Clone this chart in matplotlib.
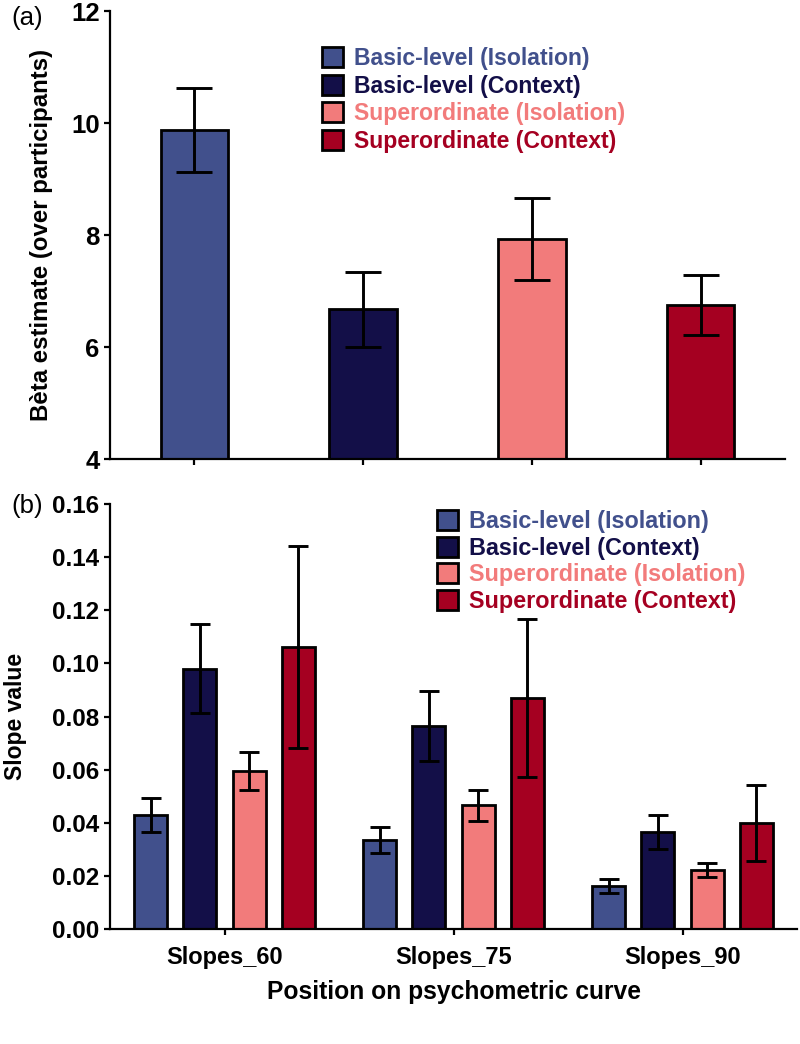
import matplotlib.pyplot as plt
import numpy as np

plt.rcParams['font.family'] = ['Liberation Sans', 'DejaVu Sans']

conditions = ["Basic-level (Isolation)", "Basic-level (Context)",
              "Superordinate (Isolation)", "Superordinate (Context)"]
colors = ["#41508C", "#130F48", "#F27B7B", "#A50021"]

# panel a: beta estimates
beta = [9.87, 6.68, 7.93, 6.75]
beta_err = [0.75, 0.67, 0.73, 0.53]

# panel b: slopes per position
positions = ["Slopes_60", "Slopes_75", "Slopes_90"]
slopes = {
    "Basic-level (Isolation)": [0.043, 0.0336, 0.0163],
    "Basic-level (Context)": [0.098, 0.0765, 0.0367],
    "Superordinate (Isolation)": [0.0596, 0.0466, 0.0223],
    "Superordinate (Context)": [0.1062, 0.087, 0.0399],
}
slopes_err = {
    "Basic-level (Isolation)": [0.0065, 0.005, 0.0025],
    "Basic-level (Context)": [0.0167, 0.0132, 0.0064],
    "Superordinate (Isolation)": [0.0072, 0.0057, 0.0028],
    "Superordinate (Context)": [0.038, 0.0298, 0.0143],
}

fig = plt.figure(figsize=(8, 10.44), dpi=100)
ax1 = fig.add_axes([0.1375, 0.56006, 0.84375, 0.4294])
ax2 = fig.add_axes([0.1375, 0.10987, 0.85875, 0.4074])

def style(ax, size):
    ax.spines["top"].set_visible(False)
    ax.spines["right"].set_visible(False)
    ax.spines["left"].set_linewidth(1.6)
    ax.spines["bottom"].set_linewidth(1.6)
    ax.tick_params(direction="out", length=4, width=1.6, labelsize=size)
    for lab in ax.get_yticklabels() + ax.get_xticklabels():
        lab.set_fontweight("bold")

# ---- panel a
x1 = np.arange(len(beta))
ax1.bar(x1, beta, width=0.4, color=colors, edgecolor="black", linewidth=2, zorder=2)
ax1.errorbar(x1, beta, yerr=beta_err, fmt="none", ecolor="black", elinewidth=2.1,
             capsize=13, capthick=2.1, zorder=3)
ax1.set_ylim(4, 12)
ax1.set_xlim(-0.5, 3.5)
ax1.set_yticks([4, 6, 8, 10, 12])
ax1.set_xticks(x1)
ax1.set_xticklabels([])
ax1.set_ylabel("Bèta estimate (over participants)", fontsize=17.3, fontweight="bold")
ax1.yaxis.set_label_coords(-0.085, 0.5)
style(ax1, 18.5)

h1 = [plt.Rectangle((0, 0), 1, 1, facecolor=c, edgecolor="black", linewidth=2) for c in colors]
ax1.legend(h1, conditions, loc="upper left", bbox_to_anchor=(322 / 800, 1 - 47 / 1044),
           bbox_transform=fig.transFigure, frameon=False,
           prop={"weight": "bold", "size": 16.6}, labelcolor=colors,
           handlelength=0.92, handleheight=0.95, handletextpad=0.45,
           labelspacing=0.2, borderpad=0, borderaxespad=0)

# ---- panel b
x2 = np.arange(len(positions))
step = 0.215
for i, cond in enumerate(conditions):
    xs = x2 + (i - 1.5) * step
    ax2.bar(xs, slopes[cond], width=0.145, color=colors[i], edgecolor="black",
            linewidth=2, zorder=2)
    ax2.errorbar(xs, slopes[cond], yerr=slopes_err[cond], fmt="none", ecolor="black",
                 elinewidth=2.1, capsize=7, capthick=2.1, zorder=3)
ax2.set_ylim(0, 0.16)
ax2.set_xlim(-0.5, 2.5)
ax2.set_yticks(np.arange(0, 0.161, 0.02))
ax2.set_yticklabels(["%.2f" % v for v in np.arange(0, 0.161, 0.02)])
ax2.set_xticks(x2)
ax2.set_xticklabels(positions)
ax2.tick_params(axis="x", pad=8)
ax2.set_ylabel("Slope value", fontsize=16.5, fontweight="bold")
ax2.yaxis.set_label_coords(-0.121, 0.5)
ax2.set_xlabel("Position on psychometric curve", fontsize=17.7, fontweight="bold", va="center")
ax2.xaxis.set_label_coords(0.5, -0.147)
style(ax2, 17.5)
ax2.tick_params(axis="x", labelsize=17)

h2 = [plt.Rectangle((0, 0), 1, 1, facecolor=c, edgecolor="black", linewidth=2) for c in colors]
ax2.legend(h2, conditions, loc="upper left", bbox_to_anchor=(437 / 800, 1 - 510 / 1044),
           bbox_transform=fig.transFigure, frameon=False,
           prop={"weight": "bold", "size": 16.8}, labelcolor=colors,
           handlelength=0.92, handleheight=0.95, handletextpad=0.45,
           labelspacing=0.15, borderpad=0, borderaxespad=0)

fig.text(0.014, 1 - 18 / 1044, "(a)", fontsize=18.5, va="center", ha="left")
fig.text(0.014, 1 - 506 / 1044, "(b)", fontsize=18.5, va="center", ha="left")

fig.savefig("out.png", dpi=100)
